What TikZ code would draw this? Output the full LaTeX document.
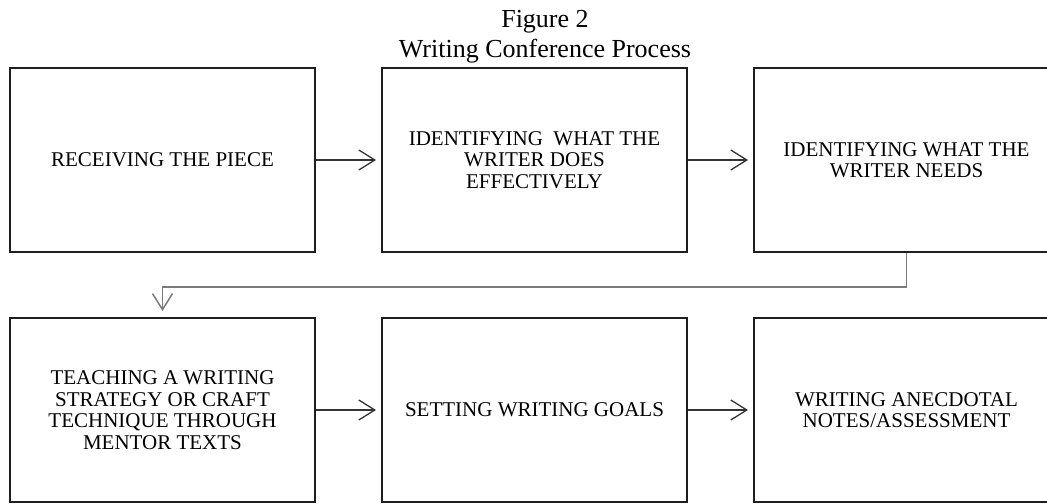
\documentclass[tikz,border=0pt]{standalone}
\usepackage{fontspec}
\setmainfont{Liberation Serif}
\usepackage{tikz}
\usetikzlibrary{positioning,arrows.meta}
\definecolor{edge}{HTML}{1E1E1E}
\definecolor{arr}{HTML}{333333}
\definecolor{elb}{HTML}{7A7A7A}
\tikzset{stage/.style={draw=edge,line width=2bp,rectangle,minimum
width=305bp,minimum height=184bp,inner sep=0pt,align=center,text=black,
font=\fontsize{21bp}{21.5bp}\selectfont},flow/.style={draw=arr,line
width=1.3bp,-{Straight Barb[length=16bp,width=20bp]},shorten >=5bp}}

\begin{document}
\begin{tikzpicture}[x=1bp,y=-1bp,node distance=64bp and 65bp,
		stage/.style={draw=edge,line width=2bp,rectangle,minimum
			width=305bp,minimum height=184bp,inner sep=0pt,align=center,text=black,
			font=\fontsize{21bp}{21.5bp}\selectfont},flow/.style={draw=arr,line
			width=1.3bp,-{Straight Barb[length=16bp,width=20bp]},shorten >=5bp}]
		\useasboundingbox (0,0) rectangle (1047,504);
		\clip (0,0) rectangle (1047,504);
		\node[anchor=base,font=\fontsize{26bp}{30bp}\selectfont] (fig) at (545,28) {Figure 2};
		\node[anchor=base,font=\fontsize{26bp}{30bp}\selectfont] (title) at (545,58) {Writing Conference Process};
		% top row
		\node[stage] (receive) at (162.5,160) {RECEIVING THE PIECE};
		\node[stage,right=of receive] (does) {IDENTIFYING\ \ WHAT THE\\WRITER DOES\\EFFECTIVELY};
		\node[stage,right=of does] (needs) {IDENTIFYING WHAT THE\\WRITER NEEDS};
		% bottom row
		\node[stage,below=of receive] (teach) {TEACHING A WRITING\\STRATEGY OR CRAFT\\TECHNIQUE THROUGH\\MENTOR TEXTS};
		\node[stage,right=of teach] (goals) {SETTING WRITING GOALS};
		\node[stage,right=of goals] (notes) {WRITING ANECDOTAL\\NOTES/ASSESSMENT};
		\draw[flow] (receive) -- (does);
		\draw[flow] (does) -- (needs);
		\draw[flow,draw=elb,line width=1.5bp,shorten >=6bp] (needs.south) -- ++(0,34) -| (teach.north);
		\draw[flow] (teach) -- (goals);
		\draw[flow] (goals) -- (notes);
	\end{tikzpicture}
\end{document}
